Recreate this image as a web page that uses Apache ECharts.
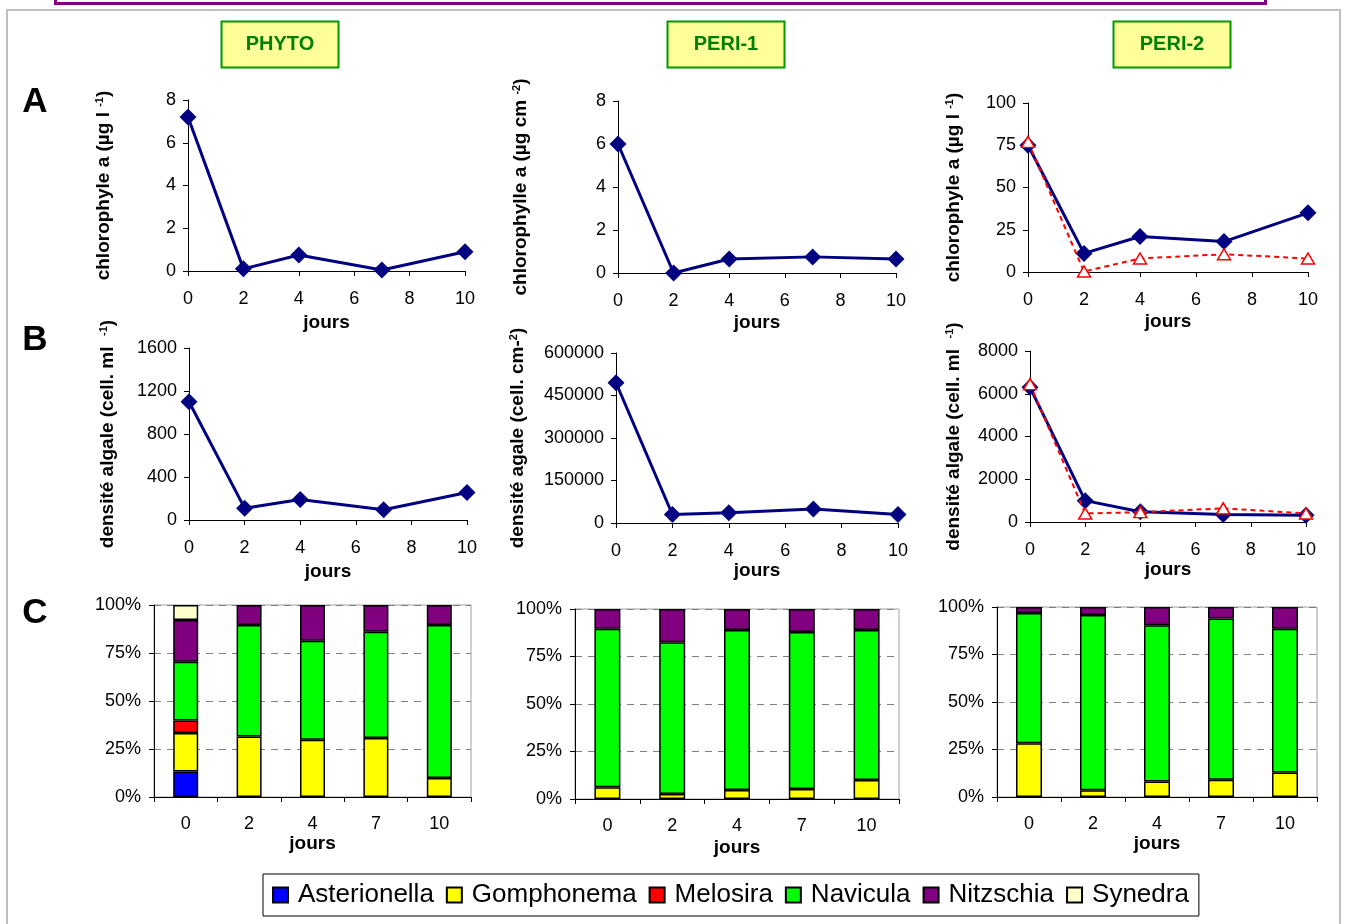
<!DOCTYPE html>
<html>
<head>
<meta charset="utf-8">
<script src="https://cdn.jsdelivr.net/npm/echarts@6/dist/echarts.min.js"></script>
<style>
html,body{margin:0;padding:0;background:#fff;}
#chart{width:1346px;height:924px;}
</style>
</head>
<body>
<div id="chart"></div>
<script>
// ---------- DATA ----------
const days = [0, 2, 4, 7, 10];
const dayLabels = ['0', '2', '4', '7', '10'];
const panelTitles = ['PHYTO', 'PERI-1', 'PERI-2'];
const rowLetters = ['A', 'B', 'C'];

// Row A : chlorophylle a
const phytoChl = [7.2, 0.1, 0.75, 0.05, 0.9];
const peri1Chl = [6.0, 0.0, 0.65, 0.75, 0.65];
const peri2Chl = [75, 11, 21, 18, 35];
const peri2ChlRed = [77, 0.3, 8, 10.5, 8];

// Row B : densité algale
const phytoDens = [1100, 110, 190, 95, 255];
const peri1Dens = [495000, 30000, 36000, 49000, 30000];
const peri2Dens = [6300, 1000, 480, 350, 320];
const peri2DensRed = [6450, 400, 460, 640, 400];

// Row C : composition (%)
const taxa = ['Asterionella', 'Gomphonema', 'Melosira', 'Navicula', 'Nitzschia', 'Synedra'];
const phytoAsterionella = [13.3, 0, 0, 0, 0];
const phytoGomphonema = [20.0, 31.5, 29.8, 30.7, 9.9];
const phytoMelosira = [6.5, 0, 0, 0, 0];
const phytoNavicula = [30.7, 58.1, 51.6, 55.4, 79.7];
const phytoNitzschia = [21.7, 10.4, 18.6, 13.9, 10.4];
const phytoSynedra = [7.8, 0, 0, 0, 0];

const peri1Gomphonema = [6.2, 2.6, 4.7, 5.3, 10.0];
const peri1Navicula = [83.4, 79.9, 84.2, 82.6, 78.9];
const peri1Nitzschia = [10.4, 17.5, 11.1, 12.1, 11.1];

const peri2Gomphonema = [28.3, 3.5, 8.2, 9.1, 12.9];
const peri2Navicula = [68.6, 92.3, 82.2, 84.8, 75.6];
const peri2Nitzschia = [3.1, 4.2, 9.6, 6.1, 11.5];

// Axis ticks
const chlMax = [8, 8, 100];
const chlStep = [2, 2, 25];
const densMax = [1600, 600000, 8000];
const densStep = [400, 150000, 2000];

// ---------- STYLE ----------
const FONT = "'Liberation Sans', Arial, Helvetica, sans-serif";
const taxaColors = {
  Asterionella: '#0000FF', Gomphonema: '#FFFF00', Melosira: '#FF0000',
  Navicula: '#00FF00', Nitzschia: '#800080', Synedra: '#FFFFCC'
};

const chart = echarts.init(document.getElementById('chart'));

const grids = [
  {left: 188, top: 100, width: 277, height: 171},
  {left: 618, top: 101, width: 278, height: 172},
  {left: 1028, top: 103, width: 280, height: 169},
  {left: 189, top: 348, width: 278, height: 172},
  {left: 616, top: 353, width: 282, height: 170},
  {left: 1030, top: 351, width: 276, height: 171},
  {left: 154, top: 605, width: 317, height: 192, show: true, borderColor: '#A0A0A0', borderWidth: 1},
  {left: 575, top: 609, width: 324, height: 190, show: true, borderColor: '#A0A0A0', borderWidth: 1},
  {left: 997, top: 607, width: 320, height: 190, show: true, borderColor: '#A0A0A0', borderWidth: 1}
];

const nameRich = {
  n: {fontSize: 19, fontWeight: 'bold', fontFamily: FONT, color: '#000'},
  s: {fontSize: 11, fontWeight: 'bold', fontFamily: FONT, color: '#000', verticalAlign: 'top'}
};
const yNames = [
  '{n|chlorophyle a (µg l }{s|-1}{n|)}',
  '{n|chlorophylle a (µg cm }{s|-2}{n|)}',
  '{n|chlorophyle a (µg l }{s|-1}{n|)}',
  '{n|densité algale (cell. ml  }{s|-1}{n|)}',
  '{n|densité agale (cell. cm-}{s|2}{n|)}',
  '{n|densité algale (cell. ml  }{s|-1}{n|)}'
];
const yNameGaps = [75, 88, 65, 72, 89, 67];
const xNameGaps = [42, 40, 40, 42, 37, 38, 36, 39, 35];

const axisLine = {lineStyle: {color: '#000', width: 1}};
const tickStyle = {length: 5, lineStyle: {color: '#000', width: 1}};
const labelStyle = {color: '#000', fontSize: 18, fontFamily: FONT};
const xNameStyle = {color: '#000', fontSize: 19, fontWeight: 'bold', fontFamily: FONT};
const plain = v => String(v);

const xAxes = [], yAxes = [], series = [];

for (let i = 0; i < 6; i++) {
  xAxes.push({
    gridIndex: i, type: 'value', min: 0, max: 10, interval: 2,
    axisLine, axisTick: tickStyle, splitLine: {show: false},
    axisLabel: Object.assign({margin: 19, formatter: plain}, labelStyle),
    name: 'jours', nameLocation: 'middle', nameGap: xNameGaps[i], nameTextStyle: xNameStyle
  });
  const col = i % 3;
  const isA = i < 3;
  yAxes.push({
    gridIndex: i, type: 'value', min: 0,
    max: isA ? chlMax[col] : densMax[col],
    interval: isA ? chlStep[col] : densStep[col],
    axisLine: {show: true, lineStyle: {color: '#000', width: 1}},
    axisTick: {show: true, length: 5, lineStyle: {color: '#000'}},
    splitLine: {show: false},
    axisLabel: Object.assign({margin: 12, formatter: plain}, labelStyle),
    name: yNames[i], nameLocation: 'middle', nameRotate: 90, nameGap: yNameGaps[i],
    nameTextStyle: {rich: nameRich}
  });
}
for (let i = 6; i < 9; i++) {
  xAxes.push({
    gridIndex: i, type: 'category', data: dayLabels,
    axisLine, axisTick: {show: true, length: 5, alignWithLabel: false, lineStyle: {color: '#000'}},
    axisLabel: Object.assign({margin: 18}, labelStyle),
    name: 'jours', nameLocation: 'middle', nameGap: xNameGaps[i], nameTextStyle: xNameStyle
  });
  yAxes.push({
    gridIndex: i, type: 'value', min: 0, max: 100, interval: 25,
    axisLine: {show: true, lineStyle: {color: '#000', width: 1}},
    axisTick: {show: true, length: 5, lineStyle: {color: '#000'}},
    splitLine: {show: true, lineStyle: {color: '#808080', type: [7, 6], width: 1}},
    axisLabel: Object.assign({margin: 13, formatter: '{value}%'}, labelStyle)
  });
}

function pairs(vals) { return days.map((d, k) => [d, vals[k]]); }
function navy(idx, vals) {
  return {
    type: 'line', xAxisIndex: idx, yAxisIndex: idx, data: pairs(vals),
    lineStyle: {color: '#000080', width: 3}, itemStyle: {color: '#000080'},
    symbol: 'diamond', symbolSize: 17, showAllSymbol: true, clip: false, z: 3, silent: true
  };
}
function red(idx, vals) {
  return {
    type: 'line', xAxisIndex: idx, yAxisIndex: idx, data: pairs(vals),
    lineStyle: {color: '#FF0000', width: 2, type: [5, 4]},
    itemStyle: {color: '#FFFFFF', borderColor: '#FF0000', borderWidth: 1.5},
    symbol: 'triangle', symbolSize: [13, 11], showAllSymbol: true, clip: false, z: 4, silent: true
  };
}
series.push(navy(0, phytoChl));
series.push(navy(1, peri1Chl));
series.push(navy(2, peri2Chl));
series.push(red(2, peri2ChlRed));
series.push(navy(3, phytoDens));
series.push(navy(4, peri1Dens));
series.push(navy(5, peri2Dens));
series.push(red(5, peri2DensRed));

function bar(idx, name, vals, bw) {
  return {
    type: 'bar', name, xAxisIndex: idx, yAxisIndex: idx, stack: 'c' + idx,
    data: vals.map(v => (v === 0 ? null : v)), barWidth: bw,
    itemStyle: {color: taxaColors[name], borderColor: '#000', borderWidth: 1.5},
    silent: true
  };
}
series.push(bar(6, 'Asterionella', phytoAsterionella, 25));
series.push(bar(6, 'Gomphonema', phytoGomphonema, 25));
series.push(bar(6, 'Melosira', phytoMelosira, 25));
series.push(bar(6, 'Navicula', phytoNavicula, 25));
series.push(bar(6, 'Nitzschia', phytoNitzschia, 25));
series.push(bar(6, 'Synedra', phytoSynedra, 25));
series.push(bar(7, 'Gomphonema', peri1Gomphonema, 26));
series.push(bar(7, 'Navicula', peri1Navicula, 26));
series.push(bar(7, 'Nitzschia', peri1Nitzschia, 26));
series.push(bar(8, 'Gomphonema', peri2Gomphonema, 26));
series.push(bar(8, 'Navicula', peri2Navicula, 26));
series.push(bar(8, 'Nitzschia', peri2Nitzschia, 26));

// ---------- DECORATION ----------
const titleBoxes = [221.5, 667.5, 1113.5];
const letterY = [102.5, 340, 613];
const graphic = [
  {type: 'rect', silent: true, shape: {x: 7, y: 10, width: 1333, height: 940},
   style: {fill: null, stroke: '#C0C0C0', lineWidth: 2}, z: 0},
  {type: 'rect', silent: true, shape: {x: 55.5, y: -30, width: 1210, height: 33.5},
   style: {fill: null, stroke: '#800080', lineWidth: 3}, z: 0}
];
panelTitles.forEach((t, k) => {
  graphic.push({type: 'rect', silent: true, shape: {x: titleBoxes[k], y: 21.5, width: 117, height: 46},
    style: {fill: '#FFFF99', stroke: '#009900', lineWidth: 2}, z: 1});
  graphic.push({type: 'text', silent: true, x: titleBoxes[k] + 58.5, y: 44.5,
    style: {text: t, fill: '#008000', font: 'bold 20px ' + FONT, textAlign: 'center', textVerticalAlign: 'middle'}, z: 2});
});
rowLetters.forEach((l, k) => {
  graphic.push({type: 'text', silent: true, x: 35, y: letterY[k],
    style: {text: l, fill: '#000', font: 'bold 35px ' + FONT, textAlign: 'center', textVerticalAlign: 'middle'}, z: 2});
});

chart.setOption({
  animation: false,
  backgroundColor: '#fff',
  textStyle: {fontFamily: FONT},
  grid: grids,
  xAxis: xAxes,
  yAxis: yAxes,
  legend: {
    data: taxa, left: 263, top: 874, orient: 'horizontal',
    itemWidth: 15, itemHeight: 15, itemGap: 12, icon: 'rect',
    padding: [8, 10, 8, 9],
    borderColor: '#000', borderWidth: 1, backgroundColor: '#fff',
    selectedMode: false,
    textStyle: {color: '#000', fontSize: 26, fontFamily: FONT, padding: [0, 0, 0, 5]}
  },
  series,
  graphic
});
</script>
</body>
</html>
